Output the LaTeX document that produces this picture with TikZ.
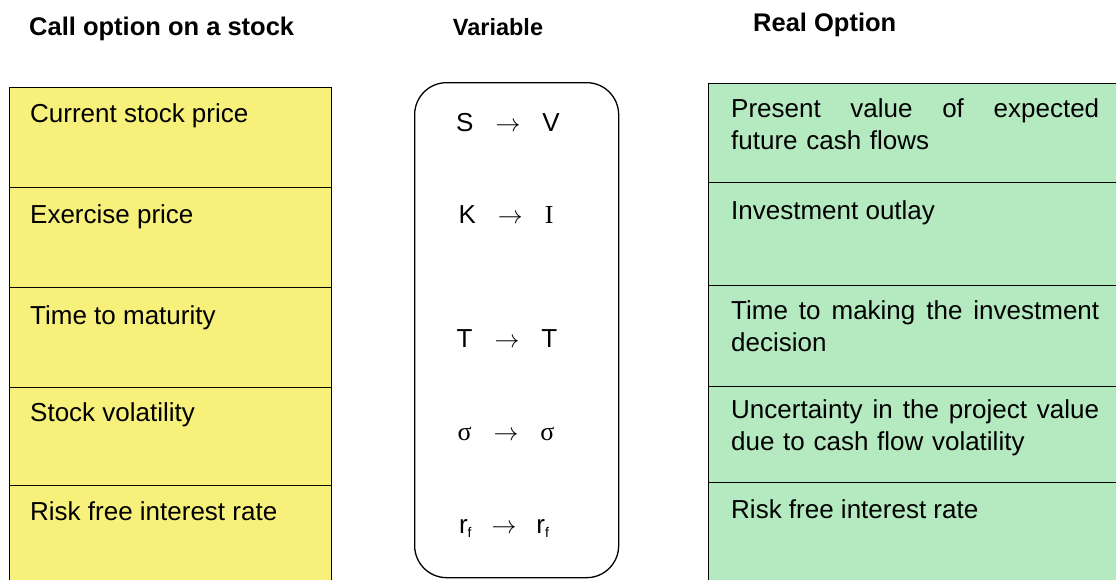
\documentclass[tikz,border=0pt]{standalone}
\usepackage{fontspec}
\setmainfont{Liberation Sans}
\newfontfamily\seriffont{Liberation Serif}
\definecolor{lyellow}{HTML}{F7F17C}
\definecolor{lgreen}{HTML}{B5EAC1}
\begin{document}
\begin{tikzpicture}[x=1pt,y=-1pt,
  cellbox/.style={draw=black, line width=1.3pt, minimum width=#1, inner sep=0pt, anchor=north west},
  lbox/.style={cellbox=322pt, fill=lyellow},
  rbox/.style={cellbox=440pt, fill=lgreen},
  bodytext/.style={anchor=base west, inner sep=0pt, font=\fontsize{26}{32}\selectfont},
  multitext/.style={bodytext, text width=372pt, align=left},
  symrow/.style={anchor=base, inner sep=0pt, font=\fontsize{26}{30}\selectfont},
  headtext/.style={anchor=base west, inner sep=0pt, font=\fontsize{25.5}{28}\selectfont\bfseries}]
\useasboundingbox (0,0) rectangle (1116,579);
\clip (0,0) rectangle (1116,579);
% headings
\node[headtext] (h1) at (29,35) {Call option on a stock};
\node[headtext, anchor=base, font=\fontsize{23.5}{28}\selectfont\bfseries] (h2) at (498,35) {Variable};
\node[headtext] (h3) at (753,31) {Real Option};
% left column
\node[lbox, minimum height=100pt] (l1) at (9,87) {};
\node[lbox, minimum height=100pt] (l2) at (9,187) {};
\node[lbox, minimum height=100pt] (l3) at (9,287) {};
\node[lbox, minimum height=98pt] (l4) at (9,387) {};
\node[lbox, minimum height=120pt] (l5) at (9,485) {};
\node[bodytext] (lt1) at (30,122) {Current stock price};
\node[bodytext] (lt2) at (30,223) {Exercise price};
\node[bodytext] (lt3) at (30,324) {Time to maturity};
\node[bodytext] (lt4) at (30,421) {Stock volatility};
\node[bodytext] (lt5) at (30,520) {Risk free interest rate};
% right column
\node[rbox, minimum height=99pt] (r1) at (708,83) {};
\node[rbox, minimum height=103pt] (r2) at (708,182) {};
\node[rbox, minimum height=101pt] (r3) at (708,285) {};
\node[rbox, minimum height=96pt] (r4) at (708,386) {};
\node[rbox, minimum height=120pt] (r5) at (708,482) {};
\node[multitext] (rt1) at (731,117) {\hbox to 368pt{Present\hfill value\hfill of\hfill expected}\\future cash flows};
\node[bodytext] (rt2) at (731,219) {Investment outlay};
\node[multitext] (rt3) at (731,319) {\hbox to 368pt{Time\hfill to\hfill making\hfill the\hfill investment}\\decision};
\node[multitext] (rt4) at (731,418) {\hbox to 368pt{Uncertainty\hfill in\hfill the\hfill project\hfill value}\\due to cash flow volatility};
\node[bodytext] (rt5) at (731,518) {Risk free interest rate};
% middle
\node[draw=black, line width=1.3pt, rounded corners=32pt, minimum width=204pt, minimum height=495pt, inner sep=0pt, anchor=north west] (mid) at (414,82) {};
\node[symrow] (v1) at (508,131) {S\hspace{22pt}$\rightarrow$\hspace{22pt}V};
\node[symrow] (v2) at (506,223) {K\hspace{22pt}$\rightarrow$\hspace{22pt}{\seriffont I}};
\node[symrow] (v3) at (507,347) {T\hspace{22pt}$\rightarrow$\hspace{22pt}T};
\node[symrow] (v4) at (506,440) {{\seriffont σ}\hspace{22pt}$\rightarrow$\hspace{22pt}{\seriffont σ}};
\node[symrow] (v5) at (504,533) {r\raisebox{-4pt}{\fontsize{14}{14}\selectfont f}\hspace{20pt}$\rightarrow$\hspace{20pt}r\raisebox{-4pt}{\fontsize{14}{14}\selectfont f}};
\end{tikzpicture}
\end{document}
